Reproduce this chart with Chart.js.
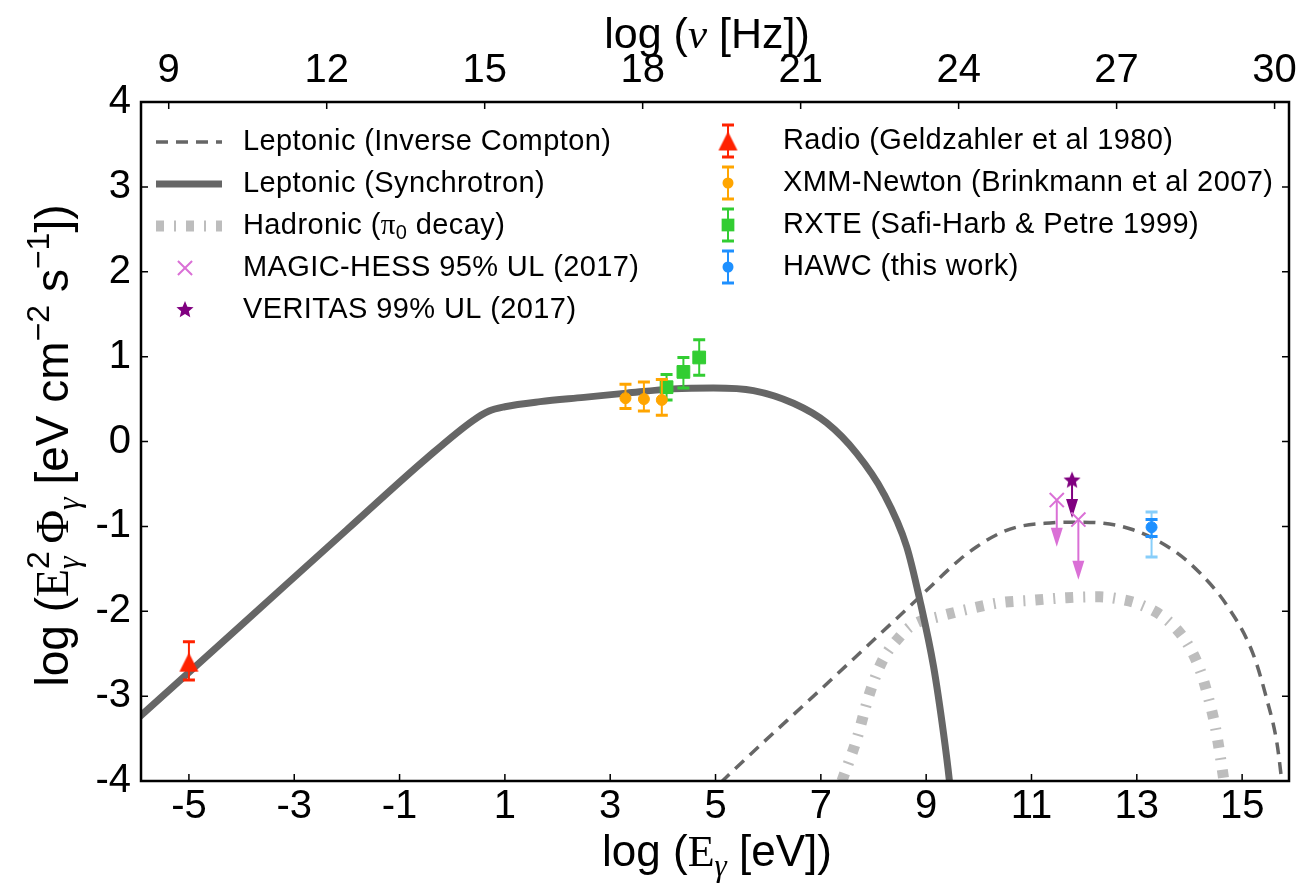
<!DOCTYPE html>
<html>
<head>
<meta charset="utf-8">
<title>Crab-like SED</title>
<script src="https://cdn.jsdelivr.net/npm/chart.js@4.4.1/dist/chart.umd.min.js"></script>
<style>
  html, body { margin: 0; padding: 0; background: #ffffff; }
  #wrap { width: 1302px; height: 883px; }
</style>
</head>
<body>
<div id="wrap"><canvas id="sed"></canvas></div>
<script>
// ==========================================
// axes
// ==========================================
const xMin = -5.91, xMax = 15.89;
const yMin = -4, yMax = 4;
const nuOffset = 14.3835; // log(nu/Hz) = log(E/eV) + log(1/h)
const xTickVals = [-5, -3, -1, 1, 3, 5, 7, 9, 11, 13, 15];
const yTickVals = [-4, -3, -2, -1, 0, 1, 2, 3, 4];
const nuTickVals = [9, 12, 15, 18, 21, 24, 27, 30];

// ==========================================
// model curves
// ==========================================
const syncX = [-5.95, -4.0, -2.0, -0.49, 0.40, 0.70, 1.00, 1.67, 2.50, 3.31, 4.20, 4.96, 5.72, 6.48, 7.11, 7.68, 8.19, 8.63, 8.88, 9.14, 9.33, 9.44, 9.52];
const syncY = [-3.25, -2.16, -1.04, -0.20, 0.25, 0.36, 0.41, 0.47, 0.52, 0.57, 0.62, 0.63, 0.60, 0.45, 0.22, -0.14, -0.61, -1.24, -1.87, -2.65, -3.44, -3.99, -4.5];

const icX = [5.10, 5.28, 7.00, 8.88, 9.64, 9.96, 10.40, 10.78, 11.35, 11.80, 12.30, 12.93, 13.69, 14.20, 14.71, 15.20, 15.47, 15.66, 15.75, 15.85];
const icY = [-4.02, -3.91, -2.92, -1.83, -1.39, -1.24, -1.08, -1.00, -0.96, -0.95, -0.96, -1.04, -1.28, -1.55, -1.93, -2.49, -3.04, -3.55, -3.99, -4.6];

const hadX = [7.40, 7.68, 7.93, 8.18, 8.50, 8.75, 9.26, 9.77, 10.40, 11.03, 11.67, 12.30, 12.70, 13.06, 13.57, 13.95, 14.20, 14.36, 14.49, 14.58, 14.66];
const hadY = [-4.0, -3.51, -2.96, -2.57, -2.30, -2.16, -2.06, -1.98, -1.90, -1.87, -1.84, -1.83, -1.86, -1.92, -2.10, -2.37, -2.69, -3.02, -3.36, -3.69, -4.02];

// ==========================================
// measurements
// ==========================================
const radioX = [-5.0], radioY = [-2.60], radioLo = [-2.81], radioHi = [-2.36];
const xmmX = [3.29, 3.64, 3.98], xmmY = [0.51, 0.50, 0.49], xmmLo = [0.39, 0.36, 0.31], xmmHi = [0.675, 0.70, 0.73];
const rxteX = [4.07, 4.39, 4.69], rxteY = [0.64, 0.82, 0.99], rxteLo = [0.49, 0.63, 0.78], rxteHi = [0.79, 0.99, 1.20];
const hawcX = [13.28], hawcY = [-1.01], hawcLo = [-1.12], hawcHi = [-0.92], hawcSysLo = [-1.36], hawcSysHi = [-0.83];
const magicX = [11.48, 11.89], magicY = [-0.69, -0.92], magicTo = [-1.24, -1.63];
const veritasX = [11.77], veritasY = [-0.46], veritasTo = [-0.90];

const seriesNames = [
  "Leptonic (Inverse Compton)", "Leptonic (Synchrotron)", "Hadronic (π0 decay)",
  "MAGIC-HESS 95% UL (2017)", "VERITAS 99% UL (2017)",
  "Radio (Geldzahler et al 1980)", "XMM-Newton (Brinkmann et al 2007)",
  "RXTE (Safi-Harb & Petre 1999)", "HAWC (this work)"
];

// ==========================================
// styles
// ==========================================
const SANS = "'Liberation Sans', Arial, Helvetica, sans-serif";
const SERIF = "'Liberation Serif', 'Times New Roman', serif";
const C_MODEL = "#666666", C_HAD = "#bdbdbd";
const C_RADIO = "#ff2200", C_XMM = "#ffa500", C_RXTE = "#32cd32";
const C_HAWC = "#1e90ff", C_HAWC_SYS = "#87cefa", C_MAGIC = "#da70d6", C_VER = "#800080";
const IC_DASH = [12, 8], HAD_DASH = [8, 10, 2, 10];

const pts = (xs, ys) => xs.map((x, i) => ({ x: x, y: ys[i] }));

function makeStar(r, color) {
  const c = document.createElement("canvas");
  c.width = c.height = 2 * r + 2;
  const g = c.getContext("2d");
  g.fillStyle = color;
  g.beginPath();
  for (let i = 0; i < 10; i++) {
    const a = -Math.PI / 2 + i * Math.PI / 5;
    const rr = i % 2 ? r * 0.45 : r;
    g.lineTo(r + 1 + rr * Math.cos(a), r + 1 + rr * Math.sin(a));
  }
  g.closePath();
  g.fill();
  return c;
}
function makeTriangle(w, h, color) {
  const c = document.createElement("canvas");
  c.width = w + 2; c.height = h + 2;
  const g = c.getContext("2d");
  g.fillStyle = color;
  g.beginPath();
  g.moveTo(1 + w / 2, 1);
  g.lineTo(1 + w, 1 + h);
  g.lineTo(1, 1 + h);
  g.closePath();
  g.fill();
  return c;
}
const starImg = makeStar(9, C_VER);
const triImg = makeTriangle(19, 19, C_RADIO);

function markerSet(label, xs, ys, style, r, color, extra) {
  return Object.assign({
    type: "scatter", label: label, data: pts(xs, ys), order: 1,
    pointStyle: style, pointRadius: r, pointHoverRadius: r,
    backgroundColor: color, borderColor: color, pointBorderWidth: 1
  }, extra || {});
}
function curveSet(label, xs, ys, color, width, dash) {
  return {
    type: "line", label: label, data: pts(xs, ys), order: 10,
    borderColor: color, borderWidth: width, borderDash: dash || [],
    borderCapStyle: "butt", pointRadius: 0, fill: false,
    cubicInterpolationMode: "monotone", clip: 0
  };
}

const dsIC = curveSet(seriesNames[0], icX, icY, C_MODEL, 3.5, IC_DASH);
const dsSync = curveSet(seriesNames[1], syncX, syncY, C_MODEL, 7);
const dsHad = curveSet(seriesNames[2], hadX, hadY, C_HAD, 11, HAD_DASH);
const dsMagic = markerSet(seriesNames[3], magicX, magicY, "crossRot", 10, C_MAGIC, { pointBorderWidth: 2, ulTo: magicTo });
const dsVer = markerSet(seriesNames[4], veritasX, veritasY, starImg, 9, C_VER, { ulTo: veritasTo });
const dsRadio = markerSet(seriesNames[5], radioX, radioY, triImg, 10, C_RADIO, { errLo: radioLo, errHi: radioHi });
const dsXmm = markerSet(seriesNames[6], xmmX, xmmY, "circle", 5.5, C_XMM, { errLo: xmmLo, errHi: xmmHi });
const dsRxte = markerSet(seriesNames[7], rxteX, rxteY, "rect", 9, C_RXTE, { errLo: rxteLo, errHi: rxteHi });
const dsHawc = markerSet(seriesNames[8], hawcX, hawcY, "circle", 5.5, C_HAWC, { errLo: hawcLo, errHi: hawcHi, sysLo: hawcSysLo, sysHi: hawcSysHi });

// ==========================================
// drawing helpers
// ==========================================
function drawErr(ctx, px, y1, y2, capW, color) {
  ctx.strokeStyle = color;
  ctx.lineWidth = 2;
  ctx.beginPath();
  ctx.moveTo(px, y1); ctx.lineTo(px, y2);
  ctx.stroke();
  ctx.lineWidth = 3;
  ctx.beginPath();
  ctx.moveTo(px - capW / 2, y1); ctx.lineTo(px + capW / 2, y1);
  ctx.moveTo(px - capW / 2, y2); ctx.lineTo(px + capW / 2, y2);
  ctx.stroke();
}
function drawArrow(ctx, px, y0, y1, color) {
  const head = 19, hw = 6;
  ctx.strokeStyle = color; ctx.fillStyle = color; ctx.lineWidth = 2;
  ctx.beginPath(); ctx.moveTo(px, y0); ctx.lineTo(px, y1 - head + 1); ctx.stroke();
  ctx.beginPath();
  ctx.moveTo(px - hw, y1 - head); ctx.lineTo(px + hw, y1 - head); ctx.lineTo(px, y1);
  ctx.closePath(); ctx.fill();
}
function drawMarker(ctx, ds, x, y) {
  const s = ds.pointStyle, r = ds.pointRadius, c = ds.backgroundColor;
  ctx.save();
  ctx.fillStyle = c; ctx.strokeStyle = c;
  if (s instanceof HTMLCanvasElement) {
    ctx.drawImage(s, x - s.width / 2, y - s.height / 2);
  } else if (s === "circle") {
    ctx.beginPath(); ctx.arc(x, y, r, 0, Math.PI * 2); ctx.fill();
  } else if (s === "rect") {
    const h = r * Math.SQRT1_2;
    ctx.fillRect(x - h, y - h, 2 * h, 2 * h);
  } else if (s === "crossRot") {
    const h = r * Math.SQRT1_2;
    ctx.lineWidth = 2;
    ctx.beginPath();
    ctx.moveTo(x - h, y - h); ctx.lineTo(x + h, y + h);
    ctx.moveTo(x - h, y + h); ctx.lineTo(x + h, y - h);
    ctx.stroke();
  }
  ctx.restore();
}
function richWidth(ctx, parts) {
  let w = 0;
  parts.forEach(p => { ctx.font = p.f; if (p.adv !== 0) w += ctx.measureText(p.t).width; });
  return w;
}
function drawRich(ctx, parts, x, y) {
  parts.forEach(p => {
    ctx.font = p.f;
    ctx.fillText(p.t, x, y + (p.dy || 0));
    if (p.adv !== 0) x += ctx.measureText(p.t).width;
  });
}

const F_T = "44px " + SANS, F_TS = "44px " + SERIF;
const F_SUB = "italic 31px " + SERIF;
const xTitle = [{ t: "log (", f: F_T }, { t: "E", f: F_TS }, { t: "γ", f: F_SUB, dy: 10 }, { t: " [eV])", f: F_T }];
const nuTitle = [{ t: "log (", f: "43px " + SANS }, { t: "ν", f: "italic 43px " + SERIF }, { t: " [Hz])", f: "43px " + SANS }];
const F_Y = "46px " + SANS, F_YS = "46px " + SERIF, F_YSUB = "italic 32px " + SERIF, F_YSUP = "32px " + SANS;
const yTitle = [
  { t: "log (", f: F_Y }, { t: "E", f: F_YS }, { t: "2", f: F_YSUP, dy: -19, adv: 0 }, { t: "γ", f: F_YSUB, dy: 11 },
  { t: " ", f: F_Y }, { t: "Φ", f: F_YS }, { t: "γ", f: F_YSUB, dy: 11 },
  { t: " [eV cm", f: F_Y }, { t: "−2", f: F_YSUP, dy: -19 }, { t: " s", f: F_Y }, { t: "−1", f: F_YSUP, dy: -19 },
  { t: "])", f: F_Y }
];

const F_LEG = "29px " + SANS;
function legendText(ctx, name, x, y) {
  ctx.letterSpacing = "0.4px";
  if (name.indexOf("π0") >= 0) {
    const a = name.split("π0");
    drawRich(ctx, [
      { t: a[0], f: F_LEG }, { t: "π", f: "29px " + SERIF },
      { t: "0", f: "20px " + SANS, dy: 7 }, { t: a[1], f: F_LEG }
    ], x, y);
  } else {
    ctx.font = F_LEG;
    ctx.fillText(name, x, y);
  }
  ctx.letterSpacing = "0px";
}

const decor = {
  id: "sedDecor",
  beforeDatasetDraw(chart, args) {
    const ds = chart.data.datasets[args.index];
    const xs = chart.scales.x, ys = chart.scales.y, ctx = chart.ctx;
    ctx.save();
    ds.data.forEach((p, i) => {
      const px = xs.getPixelForValue(p.x);
      if (ds.sysLo) drawErr(ctx, px, ys.getPixelForValue(ds.sysLo[i]), ys.getPixelForValue(ds.sysHi[i]), 12, C_HAWC_SYS);
      if (ds.errLo) drawErr(ctx, px, ys.getPixelForValue(ds.errLo[i]), ys.getPixelForValue(ds.errHi[i]), 12, ds.borderColor);
      if (ds.ulTo) drawArrow(ctx, px, ys.getPixelForValue(p.y), ys.getPixelForValue(ds.ulTo[i]), ds.borderColor);
    });
    ctx.restore();
  },
  afterDraw(chart) {
    const ctx = chart.ctx, a = chart.chartArea;
    const xs = chart.scales.x, x2 = chart.scales.x2, ys = chart.scales.y;
    ctx.save();
    // frame
    ctx.strokeStyle = "#000"; ctx.lineWidth = 2.5;
    ctx.strokeRect(a.left, a.top, a.right - a.left, a.bottom - a.top);
    // inward ticks
    ctx.lineWidth = 1.5;
    ctx.beginPath();
    xTickVals.forEach(v => { const p = xs.getPixelForValue(v); ctx.moveTo(p, a.bottom); ctx.lineTo(p, a.bottom - 7); });
    nuTickVals.forEach(v => { const p = x2.getPixelForValue(v); ctx.moveTo(p, a.top); ctx.lineTo(p, a.top + 7); });
    yTickVals.forEach(v => {
      const p = ys.getPixelForValue(v);
      ctx.moveTo(a.left, p); ctx.lineTo(a.left + 7, p);
      ctx.moveTo(a.right, p); ctx.lineTo(a.right - 7, p);
    });
    ctx.stroke();

    // axis titles
    ctx.fillStyle = "#000";
    ctx.textBaseline = "alphabetic"; ctx.textAlign = "left";
    const cx = (a.left + a.right) / 2;
    drawRich(ctx, xTitle, cx + 2 - richWidth(ctx, xTitle) / 2, 866);
    drawRich(ctx, nuTitle, cx - 8 - richWidth(ctx, nuTitle) / 2, 48);
    ctx.save();
    ctx.translate(68, (a.top + a.bottom) / 2 + 4);
    ctx.rotate(-Math.PI / 2);
    drawRich(ctx, yTitle, -richWidth(ctx, yTitle) / 2, 0);
    ctx.restore();

    // legend, two columns
    const rows = [142, 184, 226, 268, 310];
    ctx.textBaseline = "middle";
    // left column: model curves + upper limits
    ctx.lineCap = "butt";
    [dsIC, dsSync, dsHad].forEach((ds, i) => {
      ctx.strokeStyle = ds.borderColor; ctx.lineWidth = ds.borderWidth;
      ctx.setLineDash(ds.borderDash);
      ctx.beginPath(); ctx.moveTo(156, rows[i]); ctx.lineTo(222, rows[i]); ctx.stroke();
      ctx.setLineDash([]);
      ctx.fillStyle = "#000";
      legendText(ctx, ds.label, 243, rows[i]);
    });
    [dsMagic, dsVer].forEach((ds, i) => {
      drawMarker(ctx, ds, 185, rows[3 + i]);
      ctx.fillStyle = "#000";
      legendText(ctx, ds.label, 243, rows[3 + i]);
    });
    // right column: data points with error bars
    [dsRadio, dsXmm, dsRxte, dsHawc].forEach((ds, i) => {
      const y = rows[i] - 1;
      drawErr(ctx, 728, y - 16, y + 16, 12, ds.borderColor);
      drawMarker(ctx, ds, 728, y);
      ctx.fillStyle = "#000";
      legendText(ctx, ds.label, 783, y);
    });
    ctx.restore();
  }
};

// ==========================================
// chart
// ==========================================
Chart.defaults.font.family = SANS;
Chart.defaults.color = "#000";

const tickFont = { family: SANS, size: 40 };
const plainGrid = { display: false, drawTicks: false };

new Chart(document.getElementById("sed"), {
  type: "scatter",
  data: { datasets: [dsMagic, dsVer, dsRadio, dsXmm, dsRxte, dsHawc, dsSync, dsIC, dsHad] },
  options: {
    responsive: true,
    maintainAspectRatio: false,
    animation: false,
    events: [],
    layout: { padding: { left: 0, right: 13, top: 0, bottom: 0 } },
    plugins: { legend: { display: false }, tooltip: { enabled: false } },
    scales: {
      x: {
        type: "linear", position: "bottom", min: xMin, max: xMax,
        grid: plainGrid, border: { display: false },
        ticks: { font: tickFont, color: "#000", padding: 2, maxRotation: 0, autoSkip: false, callback: v => String(v) },
        afterBuildTicks: s => { s.ticks = xTickVals.map(v => ({ value: v })); },
        afterFit: s => { s.height = 102; s.paddingLeft = 0; s.paddingRight = 0; }
      },
      x2: {
        type: "linear", position: "top", min: xMin + nuOffset, max: xMax + nuOffset,
        grid: plainGrid, border: { display: false },
        ticks: { font: tickFont, color: "#000", padding: 7, maxRotation: 0, autoSkip: false, callback: v => String(v) },
        afterBuildTicks: s => { s.ticks = nuTickVals.map(v => ({ value: v })); },
        afterFit: s => { s.height = 102; s.paddingLeft = 0; s.paddingRight = 0; }
      },
      y: {
        type: "linear", position: "left", min: yMin, max: yMax,
        grid: plainGrid, border: { display: false },
        ticks: { font: tickFont, color: "#000", padding: 10, callback: v => String(v) },
        afterBuildTicks: s => { s.ticks = yTickVals.map(v => ({ value: v })); },
        afterFit: s => { s.width = 141; s.paddingTop = 0; s.paddingBottom = 0; }
      }
    }
  },
  plugins: [decor]
});
</script>
</body>
</html>
